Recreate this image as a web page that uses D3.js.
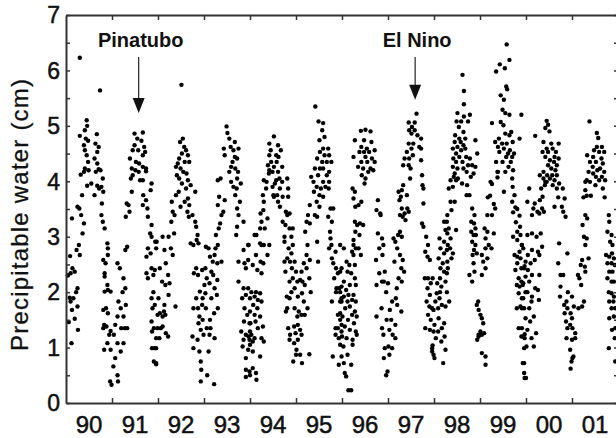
<!DOCTYPE html>
<html>
<head>
<meta charset="utf-8">
<script src="https://cdn.jsdelivr.net/npm/d3@7"></script>
<style>
  body { margin: 0; background: #FFF; }
  text { font-family: "Liberation Sans", Arial, sans-serif; fill: #111; }
</style>
</head>
<body>
<script>
// years shown on the x axis, labels sit in the middle of each year
var years = [1990, 1991, 1992, 1993, 1994, 1995, 1996, 1997, 1998, 1999, 2000, 2001];
var yearLabels = ["90", "91", "92", "93", "94", "95", "96", "97", "98", "99", "00", "01"];
var yTicks = [0, 1, 2, 3, 4, 5, 6, 7];

// events marked with an arrow: [name, date, value at arrow tip]
var events = [["Pinatubo", 1991.58, 5.23], ["El Nino", 1997.59, 5.47]];

// precipitable water (cm), one array per year: [fraction of year, value]
var pw1990 = [[.30,6.23],[.74,5.64],[.45,5.10],[.46,5.00],[.41,4.92],[.30,4.82],[.43,4.77],[.48,4.73],[.39,4.65],[.67,4.85],[.64,4.68],[.71,4.62],[.68,4.53],[.41,4.56],[.45,4.47],[.48,4.35],[.41,4.23],[.49,4.20],[.39,4.17],[.32,4.12],[.62,4.41],[.68,4.32],[.71,4.22],[.75,4.20],[.65,4.17],[.80,4.05],[.46,3.92],[.55,3.96],[.68,3.92],[.72,3.87],[.62,3.75],[.77,3.90],[.81,3.81],[.35,3.75],[.29,3.51],[.25,3.54],[.33,3.39],[.13,3.33],[.39,3.24],[.36,3.06],[.28,2.85],[.30,2.67],[.23,2.76],[.14,2.43],[.19,2.37],[.10,2.34],[.25,2.07],[.22,2.00],[.16,1.89],[.10,1.83],[.25,1.74],[.13,1.68],[.19,1.52],[.26,1.32],[.12,1.08],[.78,3.60],[.77,3.39],[.80,3.27],[.84,3.15],[.90,2.88],[.91,2.79],[.81,2.58],[.86,2.52],[.91,2.67],[.84,2.34],[.84,2.28],[.90,2.13],[.84,2.01],[.91,2.04],[.97,2.01],[.87,1.71],[.81,1.68],[.91,1.62],[.83,1.41],[.88,1.38],[.81,1.35],[.97,1.30],[.94,1.23],[.90,1.08],[.83,0.96],[.97,0.96],[.96,0.39],[.99,0.33],[.08,1.90],[.06,1.46],[.09,2.65],[.04,2.30]];
var pw1991 = [[.03,0.66],[.13,0.39],[.12,0.50],[.12,2.52],[.17,2.43],[.25,2.25],[.29,2.07],[.23,2.00],[.14,1.83],[.19,1.71],[.30,1.77],[.25,1.56],[.12,1.56],[.20,1.35],[.28,1.35],[.33,1.35],[.07,1.41],[.04,1.23],[.12,1.08],[.19,0.93],[.25,1.08],[.07,0.81],[.29,2.76],[.33,2.82],[.32,3.60],[.36,3.57],[.38,3.45],[.30,3.36],[.43,3.81],[.49,4.86],[.67,4.88],[.55,4.77],[.64,4.73],[.49,4.65],[.70,4.62],[.45,4.56],[.57,4.56],[.72,4.53],[.67,4.47],[.39,4.41],[.52,4.35],[.59,4.32],[.67,4.26],[.43,4.23],[.51,4.20],[.74,4.23],[.45,4.11],[.41,4.05],[.61,4.02],[.67,4.02],[.58,4.17],[.74,4.18],[.86,3.96],[.84,3.84],[.68,3.75],[.74,3.66],[.67,3.57],[.77,3.51],[.78,3.36],[.86,3.21],[.83,3.06],[.86,3.00],[.94,2.91],[.78,2.79],[.84,2.70],[.75,2.64],[.86,2.43],[.93,2.40],[.75,2.34],[.78,2.25],[.90,2.31],[.90,2.00],[.86,1.89],[.93,1.77],[.88,1.71],[.99,1.59],[.86,1.47],[.91,1.35],[.87,1.29],[.99,1.35],[.96,1.17],[.87,0.99],[.93,0.99],[.91,0.75],[.96,0.70],[.97,2.91],[.96,2.79],[.96,0.99],[.96,0.72]];
var pw1992 = [[.10,3.00],[.23,3.00],[.04,2.43],[.14,2.76],[.28,2.79],[.32,2.67],[.17,2.52],[.22,2.31],[.09,2.19],[.16,2.13],[.25,2.16],[.01,1.89],[.14,1.77],[.23,1.95],[.38,1.74],[.04,1.62],[.10,1.56],[.16,1.59],[.10,1.38],[.17,1.26],[.22,1.20],[.03,1.17],[.06,1.35],[.13,1.65],[.30,3.63],[.32,3.45],[.36,3.39],[.29,3.27],[.35,3.06],[.39,3.75],[.45,3.81],[.49,3.54],[.51,5.74],[.54,4.77],[.48,4.71],[.57,4.62],[.61,4.56],[.52,4.50],[.65,4.47],[.46,4.41],[.43,4.32],[.58,4.35],[.68,4.35],[.39,4.26],[.49,4.23],[.55,4.17],[.62,4.14],[.41,4.11],[.46,4.05],[.65,4.02],[.52,3.96],[.71,3.93],[.61,3.87],[.81,3.81],[.65,3.69],[.58,3.63],[.68,3.57],[.64,3.45],[.75,3.39],[.67,3.36],[.81,3.27],[.83,3.18],[.86,3.03],[.84,2.94],[.71,2.88],[.88,2.88],[.77,2.85],[.83,2.43],[.78,2.34],[.87,2.31],[.96,2.40],[.91,2.01],[.97,1.89],[.83,1.89],[.77,1.71],[.87,1.71],[.96,1.77],[.90,1.56],[.88,1.44],[.97,1.50],[.93,1.32],[.75,1.20],[.86,1.14],[.99,1.23],[.77,0.99],[.90,0.93],[.93,0.75],[.94,0.60],[.93,0.39]];
var pw1993 = [[.03,2.43],[.01,2.13],[.04,1.71],[.06,1.35],[.14,1.35],[.12,1.23],[.23,1.17],[.10,0.93],[.07,0.50],[.22,0.34],[.04,2.82],[.10,2.79],[.13,2.64],[.19,2.55],[.23,2.67],[.29,2.52],[.38,2.55],[.30,2.85],[.26,3.03],[.32,3.15],[.35,3.24],[.25,2.79],[.16,2.37],[.06,2.25],[.20,2.31],[.29,2.22],[.12,2.16],[.23,2.07],[.03,1.98],[.16,1.89],[.28,1.95],[.30,1.71],[.22,1.62],[.13,1.50],[.30,3.57],[.33,3.72],[.45,3.66],[.42,3.45],[.38,3.39],[.30,4.02],[.36,4.05],[.49,4.99],[.51,4.87],[.55,4.77],[.67,4.71],[.58,4.62],[.43,4.59],[.64,4.56],[.75,4.59],[.45,4.47],[.67,4.44],[.72,4.41],[.62,4.35],[.59,4.26],[.68,4.23],[.55,4.17],[.74,4.17],[.72,4.05],[.59,3.99],[.80,3.96],[.64,3.90],[.71,3.87],[.68,3.75],[.78,3.63],[.72,3.51],[.75,3.39],[.86,3.27],[.72,3.18],[.70,3.03],[.86,2.76],[.97,2.85],[.75,2.55],[.88,2.52],[.96,2.58],[.91,2.43],[.75,2.19],[.86,2.07],[.83,1.89],[.91,1.95],[.88,1.71],[.94,1.59],[.87,1.47],[.99,1.44],[.81,1.29],[.91,1.23],[.97,1.20],[.86,1.14],[.99,1.14],[.84,1.02],[.96,0.96],[.91,0.81],[.91,0.60],[.91,0.47],[.99,0.57],[.96,2.85],[.96,2.07]];
var pw1994 = [[.10,3.03],[.06,2.49],[.03,2.00],[.13,2.00],[.00,1.89],[.10,1.92],[.17,1.86],[.22,1.98],[.07,1.77],[.16,1.71],[.25,1.83],[.00,1.65],[.10,1.59],[.22,1.56],[.01,1.44],[.12,1.47],[.00,1.29],[.17,1.35],[.28,1.38],[.03,1.23],[.10,1.17],[.25,1.17],[.00,1.05],[.06,1.11],[.30,1.11],[.06,0.93],[.22,0.84],[.06,0.63],[.13,0.54],[.14,0.42],[.00,0.50],[.16,2.40],[.25,2.34],[.29,2.52],[.23,2.55],[.25,2.85],[.22,2.88],[.30,2.85],[.42,2.85],[.38,2.67],[.13,2.67],[.14,3.03],[.22,3.15],[.32,3.15],[.25,3.27],[.38,3.33],[.23,3.42],[.29,3.48],[.30,3.63],[.28,3.75],[.35,3.87],[.30,4.02],[.36,3.99],[.51,3.75],[.54,3.96],[.52,4.81],[.42,4.68],[.61,4.65],[.45,4.56],[.67,4.56],[.42,4.47],[.57,4.47],[.62,4.44],[.46,4.35],[.58,4.35],[.39,4.29],[.52,4.26],[.70,4.26],[.42,4.20],[.49,4.17],[.61,4.17],[.41,4.14],[.64,4.05],[.81,4.05],[.57,4.02],[.70,3.99],[.49,3.90],[.65,3.87],[.83,3.87],[.59,3.75],[.52,3.72],[.71,3.72],[.83,3.72],[.61,3.63],[.65,3.54],[.78,3.45],[.86,3.42],[.81,3.39],[.71,3.27],[.77,3.21],[.86,3.15],[.93,3.15],[.90,3.00],[.75,3.00],[.75,2.91],[.84,2.79],[.93,2.85],[.90,2.70],[.81,2.61],[.87,2.55],[.75,2.55],[.97,2.55],[.91,2.43],[.77,2.37],[.93,2.25],[.86,2.19],[.97,2.07],[.90,2.00],[.80,1.92],[.86,1.89],[.81,1.71],[.78,1.65],[.97,1.71],[.83,1.35],[.96,1.38],[.87,1.23],[.99,1.26],[.86,1.14],[.96,1.08],[.94,0.75]];
var pw1995 = [[.00,2.37],[.03,2.19],[.09,2.22],[.04,1.92],[.13,1.98],[.06,1.65],[.03,1.56],[.12,1.59],[.04,1.41],[.09,1.32],[.12,1.23],[.04,1.14],[.01,0.96],[.09,0.87],[.13,0.72],[.00,0.87],[.12,2.37],[.17,2.52],[.23,2.67],[.30,2.58],[.23,2.43],[.25,2.85],[.20,3.09],[.23,3.27],[.30,3.24],[.26,3.39],[.30,3.57],[.41,3.39],[.46,3.36],[.46,2.91],[.48,2.55],[.14,2.19],[.19,2.13],[.29,2.25],[.32,2.00],[.17,1.83],[.25,1.71],[.19,1.59],[.29,0.88],[.42,5.35],[.49,5.08],[.59,5.05],[.57,4.92],[.51,4.74],[.62,4.80],[.59,4.59],[.52,4.53],[.70,4.59],[.62,4.47],[.72,4.47],[.46,4.41],[.57,4.35],[.67,4.35],[.77,4.35],[.41,4.23],[.52,4.23],[.59,4.23],[.72,4.17],[.33,4.08],[.48,4.11],[.67,4.11],[.38,3.99],[.59,3.99],[.72,3.99],[.45,3.90],[.54,3.87],[.64,3.90],[.71,3.87],[.39,3.81],[.51,3.75],[.59,3.72],[.45,3.63],[.51,3.54],[.75,3.51],[.81,3.51],[.70,3.36],[.78,3.27],[.74,3.09],[.75,2.97],[.77,2.85],[.86,2.73],[.72,2.79],[.78,2.61],[.81,2.52],[.87,2.43],[.96,2.37],[.91,2.34],[.83,2.25],[.88,2.07],[.94,2.07],[.87,2.00],[.96,1.83],[.78,1.83],[.99,1.89],[.91,1.59],[.96,1.50],[.86,1.35],[.91,1.35],[.99,1.41],[.86,1.23],[.93,1.17],[.99,1.29],[.96,1.05],[.80,0.84],[.99,0.84],[.93,0.69],[.96,2.85],[.99,2.43],[.99,2.10],[.96,2.00],[.99,1.83],[.96,1.62]];
var pw1996 = [[.04,2.79],[.10,2.55],[.16,2.49],[.22,2.73],[.25,2.85],[.12,2.37],[.20,2.34],[.28,2.25],[.04,2.19],[.17,2.13],[.09,2.04],[.30,2.13],[.14,1.95],[.04,1.92],[.25,1.95],[.12,1.83],[.22,1.86],[.30,1.83],[.17,1.74],[.07,1.71],[.28,1.65],[.22,1.59],[.32,1.56],[.01,1.56],[.13,1.50],[.26,1.44],[.06,1.38],[.17,1.32],[.30,1.29],[.00,1.20],[.10,1.17],[.23,1.14],[.32,1.23],[.03,1.02],[.23,1.05],[.12,0.87],[.20,0.69],[.04,0.72],[.06,0.54],[.09,0.48],[.14,0.23],[.20,0.23],[.28,3.27],[.33,3.21],[.39,3.24],[.46,3.21],[.29,3.09],[.38,3.03],[.25,2.94],[.30,2.79],[.36,2.79],[.41,2.67],[.25,2.67],[.28,2.49],[.23,3.87],[.28,3.81],[.25,3.69],[.29,3.54],[.36,3.57],[.42,3.63],[.41,4.91],[.51,4.93],[.62,4.90],[.28,4.74],[.48,4.74],[.64,4.71],[.42,4.62],[.54,4.59],[.71,4.56],[.38,4.53],[.48,4.53],[.59,4.53],[.25,4.44],[.51,4.44],[.65,4.41],[.42,4.35],[.55,4.35],[.71,4.35],[.35,4.26],[.46,4.23],[.62,4.23],[.68,4.20],[.57,4.17],[.43,4.11],[.51,4.05],[.49,3.96],[.78,3.66],[.75,3.48],[.83,3.42],[.84,3.39],[.78,3.06],[.87,2.97],[.90,2.85],[.81,2.79],[.74,2.58],[.88,2.67],[.81,2.34],[.93,2.37],[.87,2.19],[.91,2.19],[.75,2.13],[.96,2.00],[.86,1.71],[.75,1.56],[.87,1.35],[.97,1.50],[.90,1.23],[.93,0.99],[.96,0.50],[.99,0.57],[.91,0.81]];
var pw1997 = [[.00,2.16],[.04,1.68],[.07,1.50],[.16,1.41],[.03,1.32],[.10,1.23],[.16,1.17],[.01,1.02],[.09,0.99],[.03,0.87],[.12,2.97],[.16,2.91],[.22,3.03],[.26,3.09],[.30,3.00],[.20,2.79],[.26,2.67],[.14,2.55],[.32,2.58],[.29,2.43],[.35,2.37],[.23,2.25],[.30,2.19],[.19,2.07],[.17,1.89],[.09,1.83],[.20,1.77],[.29,1.65],[.23,3.81],[.28,3.72],[.30,3.84],[.33,3.93],[.25,3.66],[.30,3.51],[.36,3.42],[.26,3.39],[.32,3.36],[.38,3.30],[.42,3.51],[.45,3.45],[.41,3.75],[.48,4.05],[.62,5.22],[.45,5.06],[.58,5.06],[.52,4.98],[.46,4.92],[.58,4.92],[.51,4.86],[.64,4.83],[.72,4.77],[.45,4.68],[.55,4.68],[.68,4.62],[.51,4.59],[.41,4.53],[.54,4.47],[.36,4.41],[.46,4.41],[.33,4.29],[.45,4.29],[.49,4.23],[.72,4.59],[.72,4.38],[.74,4.11],[.77,3.87],[.75,3.93],[.77,3.60],[.74,3.24],[.77,3.18],[.83,3.00],[.87,2.85],[.81,2.73],[.86,2.64],[.91,2.58],[.80,2.25],[.87,2.25],[.93,2.16],[.86,2.07],[.91,1.95],[.84,1.83],[.90,1.74],[.96,1.71],[.87,1.59],[.93,1.50],[.81,1.35],[.91,1.32],[.99,1.29],[.96,0.99],[.96,0.93],[.97,1.04],[.99,1.68],[.97,2.25],[.99,0.87]];
var pw1998 = [[.01,0.81],[.20,0.72],[.25,0.96],[.16,1.11],[.23,1.20],[.04,1.17],[.09,1.29],[.17,1.35],[.01,1.41],[.22,1.44],[.10,1.53],[.09,1.71],[.17,1.77],[.25,1.74],[.03,1.83],[.12,1.89],[.33,1.83],[.06,1.98],[.13,2.00],[.16,2.10],[.28,2.00],[.07,2.16],[.25,2.19],[.13,2.25],[.28,2.34],[.22,2.37],[.14,2.43],[.30,2.43],[.19,2.52],[.29,2.55],[.10,2.61],[.38,2.61],[.22,2.70],[.41,2.70],[.28,2.76],[.35,2.79],[.14,2.79],[.22,2.91],[.30,2.85],[.12,2.97],[.36,2.97],[.29,3.06],[.25,3.12],[.32,3.15],[.48,3.12],[.22,3.27],[.28,3.27],[.29,3.39],[.38,3.48],[.45,3.63],[.36,3.63],[.48,4.02],[.36,4.02],[.43,4.08],[.52,4.05],[.41,3.90],[.32,3.87],[.62,5.92],[.65,5.63],[.65,5.39],[.51,5.23],[.65,5.17],[.78,5.20],[.49,5.08],[.59,5.08],[.74,5.08],[.54,4.98],[.64,4.89],[.46,4.83],[.55,4.77],[.68,4.77],[.90,4.74],[.45,4.71],[.58,4.71],[.64,4.65],[.51,4.62],[.41,4.59],[.59,4.56],[.68,4.59],[.48,4.50],[.94,4.50],[.55,4.44],[.70,4.44],[.78,4.41],[.42,4.41],[.48,4.35],[.62,4.35],[.83,4.29],[.90,4.26],[.74,4.29],[.41,4.26],[.51,4.23],[.64,4.23],[.71,4.17],[.86,4.14],[.80,4.08],[.45,4.14],[.61,3.96],[.72,3.93],[.77,3.75],[.71,3.75],[.83,3.51],[.88,3.39],[.81,3.27],[.87,3.24],[.90,3.15],[.81,3.09],[.86,3.03],[.91,3.03],[.83,2.91],[.90,2.85],[.87,2.76],[.93,2.70],[.84,2.67],[.86,2.52],[.88,2.37],[.77,2.31],[.83,2.19],[.96,1.83],[.93,1.77],[.97,1.68],[.97,1.23],[.94,1.14],[.97,1.20]];
var pw1999 = [[.01,1.59],[.04,1.53],[.07,1.44],[.01,1.29],[.04,1.23],[.09,1.26],[.04,0.90],[.12,0.84],[.12,0.69],[.04,2.31],[.12,2.43],[.07,2.55],[.16,2.61],[.04,2.67],[.12,2.79],[.19,2.85],[.25,2.79],[.12,2.97],[.16,3.09],[.30,3.06],[.10,3.15],[.16,3.39],[.26,3.39],[.33,3.51],[.30,3.59],[.17,3.71],[.22,3.74],[.23,3.99],[.26,3.95],[.38,4.07],[.38,4.17],[.26,5.05],[.58,6.47],[.43,6.11],[.64,6.19],[.35,5.98],[.54,6.04],[.57,5.71],[.59,5.66],[.45,5.55],[.52,5.47],[.49,5.29],[.55,5.23],[.64,5.20],[.45,5.07],[.51,5.01],[.68,4.89],[.55,4.86],[.64,4.83],[.41,4.77],[.33,4.71],[.48,4.68],[.58,4.68],[.71,4.71],[.39,4.62],[.52,4.59],[.65,4.56],[.42,4.53],[.61,4.50],[.74,4.50],[.57,4.44],[.70,4.44],[.35,4.35],[.49,4.35],[.67,4.35],[.62,4.26],[.72,4.20],[.55,4.17],[.39,4.17],[.70,4.05],[.52,3.81],[.71,3.90],[.75,3.75],[.86,4.77],[.90,5.20],[.70,3.63],[.77,3.53],[.72,3.44],[.81,3.50],[.86,3.38],[.78,3.26],[.87,3.18],[.81,3.09],[.88,3.03],[.72,3.00],[.81,2.94],[.91,2.85],[.86,2.73],[.75,2.67],[.81,2.64],[.88,2.61],[.81,2.52],[.90,2.43],[.96,2.43],[.77,2.40],[.84,2.25],[.90,2.19],[.80,2.13],[.86,2.10],[.93,2.13],[.99,2.00],[.84,1.98],[.91,1.89],[.88,1.74],[.96,1.71],[.80,1.71],[.84,1.35],[.90,1.20],[.97,1.17],[.96,0.99],[.93,0.72],[.96,0.54],[.97,0.45],[.91,2.85],[.94,2.79],[.99,2.55],[.97,2.47],[.99,2.28],[.94,2.16],[.94,1.89],[.91,1.71],[.99,1.53],[.91,1.35],[.97,1.24],[.96,0.72]];
var pw2000 = [[.03,3.03],[.13,3.06],[.23,3.00],[.32,3.06],[.04,2.67],[.13,2.76],[.26,2.73],[.35,2.82],[.29,2.67],[.10,2.52],[.19,2.58],[.04,2.40],[.13,2.31],[.29,2.31],[.07,2.19],[.20,2.07],[.26,2.04],[.03,2.00],[.13,1.92],[.28,1.86],[.12,1.83],[.07,1.71],[.17,1.56],[.09,1.47],[.03,1.32],[.22,1.26],[.12,1.17],[.17,1.02],[.01,1.02],[.00,0.45],[.03,3.63],[.07,3.87],[.19,3.60],[.16,3.51],[.13,3.39],[.25,3.45],[.29,3.42],[.35,3.51],[.39,3.45],[.30,3.66],[.36,3.72],[.33,3.87],[.41,3.93],[.20,4.82],[.42,3.99],[.45,5.09],[.42,4.96],[.51,4.90],[.48,5.02],[.55,4.68],[.71,4.68],[.38,4.71],[.45,4.59],[.58,4.59],[.36,4.53],[.48,4.53],[.65,4.53],[.42,4.44],[.62,4.44],[.71,4.41],[.52,4.38],[.61,4.35],[.48,4.29],[.67,4.29],[.55,4.23],[.64,4.20],[.38,4.17],[.46,4.11],[.57,4.11],[.67,4.11],[.30,4.11],[.38,4.05],[.52,4.05],[.62,4.02],[.45,3.99],[.72,3.96],[.58,3.93],[.67,3.87],[.80,3.87],[.70,3.71],[.84,3.69],[.62,3.54],[.78,3.54],[.81,3.45],[.86,3.36],[.72,2.88],[.90,2.70],[.70,2.52],[.75,2.31],[.81,2.31],[.75,2.10],[.74,1.92],[.88,1.83],[.91,2.00],[.83,1.77],[.90,1.71],[.84,1.62],[.97,1.62],[.87,1.47],[.96,1.41],[.90,1.35],[.88,1.17],[.96,0.96],[.99,0.75],[.97,0.62]];
var pw2001 = [[.00,1.92],[.04,1.74],[.00,1.53],[.01,1.35],[.07,1.26],[.00,1.14],[.07,1.17],[.03,0.84],[.01,0.81],[.14,1.71],[.22,1.74],[.26,1.83],[.20,2.13],[.16,2.25],[.29,2.37],[.28,2.46],[.19,2.49],[.22,2.58],[.13,2.31],[.36,2.61],[.29,2.85],[.32,2.97],[.26,3.00],[.23,3.21],[.29,3.39],[.33,3.33],[.25,3.71],[.32,3.74],[.41,3.74],[.29,3.84],[.29,3.99],[.38,5.08],[.54,4.87],[.57,4.78],[.65,4.62],[.54,4.62],[.48,4.56],[.59,4.53],[.70,4.53],[.33,4.47],[.46,4.44],[.64,4.41],[.39,4.35],[.52,4.35],[.67,4.32],[.45,4.26],[.55,4.20],[.61,4.23],[.36,4.17],[.46,4.14],[.70,4.17],[.52,4.08],[.65,4.08],[.32,4.02],[.59,4.02],[.72,4.02],[.39,3.99],[.51,3.93],[.67,3.87],[.71,3.71],[.80,3.39],[.81,3.27],[.77,3.09],[.86,3.03],[.83,2.91],[.88,2.85],[.74,2.67],[.81,2.64],[.87,2.70],[.91,2.61],[.77,2.52],[.86,2.52],[.93,2.49],[.81,2.37],[.88,2.37],[.77,2.25],[.86,2.19],[.91,2.19],[.80,2.00],[.86,1.98],[.91,1.92],[.81,1.83],[.90,1.83],[.86,1.71],[.94,1.71],[.81,1.53],[.91,1.56],[.87,1.32],[.94,1.35],[.80,0.99],[.93,1.17],[.94,0.75]];

var series = [pw1990, pw1991, pw1992, pw1993, pw1994, pw1995, pw1996, pw1997, pw1998, pw1999, pw2000, pw2001];

var w = 616;
var h = 438;

var x = d3.scaleLinear().domain([1990, 2002]).range([66, 618]);
var y = d3.scaleLinear().domain([0, 7]).range([403, 15]);

var points = [];
series.forEach(function(arr, i) {
  arr.forEach(function(d) { points.push({ t: years[i] + d[0], v: d[1] }); });
});

var svg = d3.select('body')
  .append('svg')
  .attr('width', w)
  .attr('height', h);

/* POINTS */
svg.append('g')
  .selectAll('circle')
  .data(points)
  .enter()
  .append('circle')
  .attr('cx', function(d) { return x(d.t); })
  .attr('cy', function(d) { return y(d.v); })
  .attr('r', 2.2)
  .attr('fill', '#000');

/* FRAME + TICKS (all pointing inwards) */
var yearTicks = d3.range(1991, 2002);
var halfTicks = d3.range(0, 7.01, 0.5);

function styleAxis(g) {
  g.selectAll('path').attr('stroke', '#333').attr('stroke-width', 2);
  g.selectAll('line').attr('stroke', '#333').attr('stroke-width', 1.5);
}

svg.append('g').attr('transform', 'translate(0,403)')
  .call(d3.axisBottom(x).tickValues(yearTicks).tickSize(-5).tickSizeOuter(0).tickFormat(''))
  .call(styleAxis);
svg.append('g').attr('transform', 'translate(0,15)')
  .call(d3.axisTop(x).tickValues(yearTicks).tickSize(-5).tickSizeOuter(0).tickFormat(''))
  .call(styleAxis);
svg.append('g').attr('transform', 'translate(66,0)')
  .call(d3.axisLeft(y).tickValues(halfTicks).tickSize(-4).tickSizeOuter(0).tickFormat(''))
  .call(styleAxis);
svg.append('g').attr('transform', 'translate(618,0)')
  .call(d3.axisRight(y).tickValues(halfTicks).tickSize(-4).tickSizeOuter(0).tickFormat(''))
  .call(styleAxis);

/* LABELS */
svg.append('g')
  .selectAll('text')
  .data(yTicks)
  .enter()
  .append('text')
  .attr('x', 60)
  .attr('y', function(d) { return y(d); })
  .attr('dy', '0.36em')
  .attr('text-anchor', 'end')
  .attr('font-size', 23)
  .attr('stroke', '#111')
  .attr('stroke-width', 0.5)
  .text(function(d) { return d; });

svg.append('g')
  .selectAll('text')
  .data(yearLabels)
  .enter()
  .append('text')
  .attr('x', function(d, i) { return x(years[i] + 0.5); })
  .attr('y', 433)
  .attr('text-anchor', 'middle')
  .attr('font-size', 24)
  .attr('stroke', '#111')
  .attr('stroke-width', 0.5)
  .text(function(d) { return d; });

svg.append('text')
  .attr('transform', 'translate(28,215) rotate(-90)')
  .attr('text-anchor', 'middle')
  .attr('font-size', 24)
  .attr('textLength', 272)
  .attr('lengthAdjust', 'spacing')
  .attr('stroke', '#111')
  .attr('stroke-width', 0.3)
  .text('Precipitable water (cm)');

/* EVENT ARROWS */
var ev = svg.append('g')
  .selectAll('g')
  .data(events)
  .enter()
  .append('g');

ev.append('text')
  .attr('x', function(d) { return x(d[1]) + 2; })
  .attr('y', 47)
  .attr('text-anchor', 'middle')
  .attr('font-size', 20)
  .attr('font-weight', 'bold')
  .text(function(d) { return d[0]; });

ev.append('line')
  .attr('x1', function(d) { return x(d[1]); })
  .attr('x2', function(d) { return x(d[1]); })
  .attr('y1', 57)
  .attr('y2', function(d) { return y(d[2]) - 10; })
  .attr('stroke', '#222')
  .attr('stroke-width', 1.2);

ev.append('path')
  .attr('d', function(d) {
    var px = x(d[1]), py = y(d[2]);
    return 'M' + (px - 6) + ',' + (py - 15) + 'L' + (px + 6) + ',' + (py - 15) + 'L' + px + ',' + py + 'Z';
  })
  .attr('fill', '#111');
</script>
</body>
</html>
